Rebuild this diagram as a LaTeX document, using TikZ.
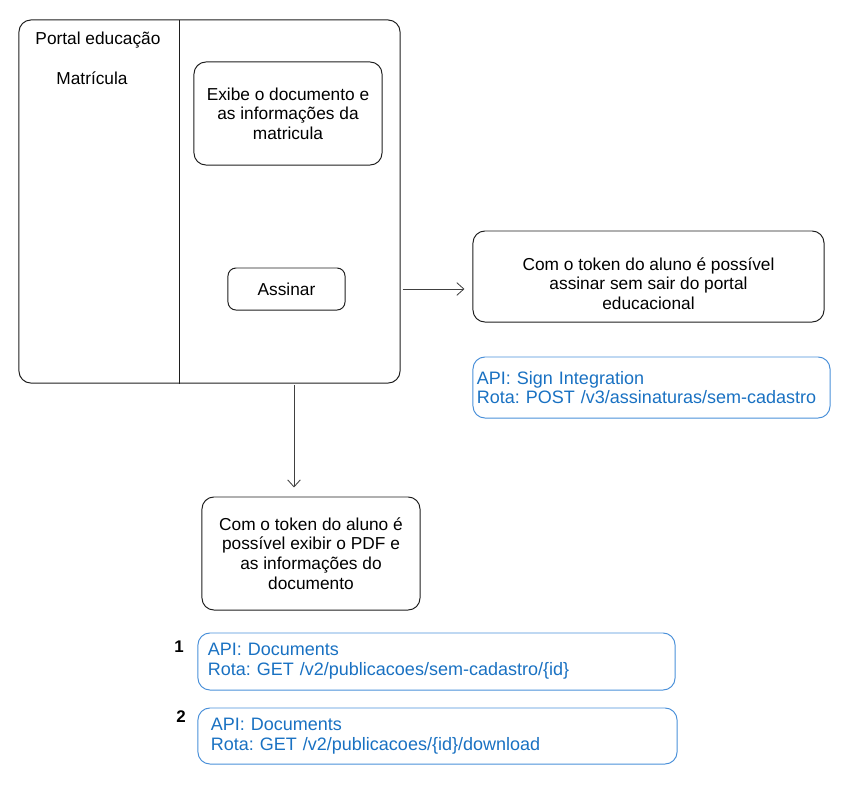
\documentclass[tikz,border=0pt]{standalone}
\usepackage{fontspec}
\setmainfont{Liberation Sans}
\usetikzlibrary{arrows.meta}
\definecolor{inkgray}{HTML}{1E1E1E}
\definecolor{apiblue}{HTML}{1971C2}
\definecolor{apiline}{HTML}{4A90D9}
\frenchspacing

\begin{document}
\begin{tikzpicture}[x=0.025cm, y=-0.025cm,
  every node/.style={font=\fontsize{12.3}{14}\selectfont},
  box/.style={draw=inkgray, line width=0.7pt, rounded corners=0.3cm, align=center, inner sep=0pt},
  apibox/.style={draw=apiline, line width=0.7pt, rounded corners=0.3cm, align=left, text=apiblue, inner ysep=0pt,
    font=\fontsize{12.8}{14}\selectfont},
  stepnum/.style={font=\fontsize{12}{14}\selectfont\bfseries},
  link/.style={draw=inkgray!85, line width=0.6pt, -{Straight Barb[length=5pt,width=9pt]}}]
\useasboundingbox (0,0) rectangle (850,791);

% Portal frame
\node[box, minimum width=9.525cm, minimum height=9.075cm] (portal) at (209.5,201.5) {};
\coordinate (split) at (179,20);
\draw[inkgray, line width=0.7pt] (split) -- (split |- portal.south);
\node (portalname) at (98,40) {Portal educação};
\node (enrol) at (92,78) {Matrícula};

% Inside the portal
\node[box, minimum width=4.7cm, minimum height=2.575cm] (showdoc) at (288,113.5)
  {Exibe o documento e\\as informações da\\matricula};
\node[box, rounded corners=0.2cm, minimum width=2.925cm, minimum height=1.05cm] (sign) at (286.5,289) {Assinar};

% Signing
\node[box, minimum width=8.775cm, minimum height=2.275cm] (signinfo) at (648.5,276.5)
  {\rule{0pt}{19pt}Com o token do aluno é possível\\assinar sem sair do portal\\educacional};
\node[apibox, text width=8.725cm, inner xsep=0.1cm, minimum height=1.525cm] (signapi) at (651.5,387.5)
  {API: Sign Integration\\Rota: POST /v3/assinaturas/sem-cadastro};

% Document
\node[box, minimum width=5.45cm, minimum height=2.825cm] (docinfo) at (311,553.5)
  {Com o token do aluno é\\possível exibir o PDF e\\as informações do\\documento};
\node[stepnum] (step1) at (179,647) {1};
\node[apibox, text width=11.425cm, inner xsep=0.25cm, minimum height=1.425cm] (docapi1) at (436.5,661.5)
  {API: Documents\\Rota: GET /v2/publicacoes/sem-cadastro/\{id\}};
\node[stepnum] (step2) at (181,717) {2};
\node[apibox, text width=11.325cm, inner xsep=0.325cm, minimum height=1.4cm] (docapi2) at (437.5,736)
  {API: Documents\\Rota: GET /v2/publicacoes/\{id\}/download};

% Connectors
\draw[link, shorten <=0.05cm, shorten >=0.2cm] (sign -| portal.east) -- (sign -| signinfo.west);
\coordinate (docout) at (294,383);
\draw[link, shorten <=0.05cm, shorten >=0.225cm] (docout) -- (docout |- docinfo.north);
\end{tikzpicture}
\end{document}
